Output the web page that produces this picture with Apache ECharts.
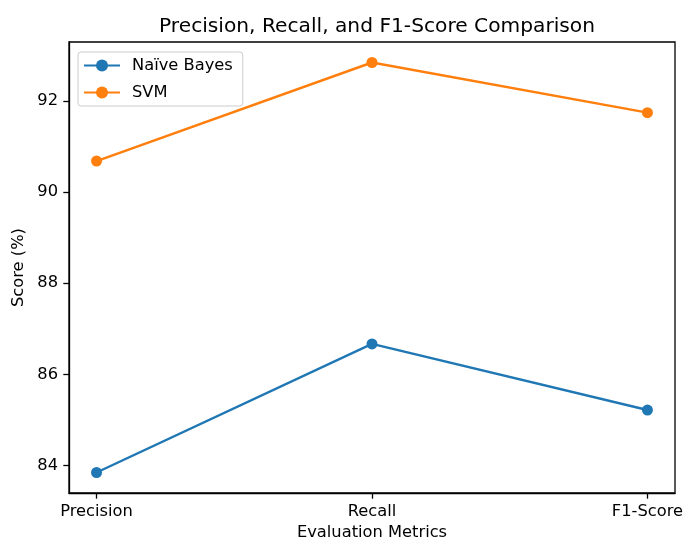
<!DOCTYPE html>
<html>
<head>
<meta charset="utf-8">
<script src="https://cdn.jsdelivr.net/npm/echarts@6/dist/echarts.min.js"></script>
<style>
html,body{margin:0;padding:0;background:#fff;}
#c{width:684px;height:542px;}
</style>
</head>
<body>
<div id="c"></div>
<script>
const categories = ['Precision', 'Recall', 'F1-Score'];
const naiveBayes = [83.85, 86.67, 85.22];
const svm = [90.68, 92.84, 91.74];
const yTicks = [84, 86, 88, 90, 92];
const seriesNames = ['Naïve Bayes', 'SVM'];
const colors = ['#1f77b4', '#ff7f0e'];

const all = naiveBayes.concat(svm);
const dMin = Math.min(...all), dMax = Math.max(...all);
const pad = (dMax - dMin) * 0.05;
const xIdx = categories.map((_, i) => i);

const font = 'DejaVu Sans';
const chart = echarts.init(document.getElementById('c'));
chart.setOption({
  animation: false,
  backgroundColor: '#fff',
  title: {
    text: 'Precision, Recall, and F1-Score Comparison',
    left: 372, textAlign: 'center', top: 12,
    textStyle: { fontFamily: font, fontSize: 20.2, fontWeight: 'normal', color: '#000' }
  },
  legend: {
    orient: 'vertical', left: 78, top: 52,
    padding: [4, 10, 4, 5],
    itemWidth: 36, itemHeight: 15, itemGap: 8,
    borderColor: '#cccccc', borderWidth: 1, borderRadius: 3,
    backgroundColor: 'rgba(255,255,255,0.8)',
    textStyle: { fontFamily: font, fontSize: 16.3, lineHeight: 19, color: '#000', padding: [0, 0, 0, 7] },
    data: seriesNames
  },
  grid: {
    left: 69, right: 9, top: 42, bottom: 49,
    outerBoundsMode: 'none', containLabel: false,
    show: true, borderColor: '#000', borderWidth: 1.3
  },
  xAxis: {
    type: 'value', min: -0.1, max: 2.1,
    name: 'Evaluation Metrics', nameLocation: 'middle', nameGap: 28,
    nameTextStyle: { fontFamily: font, fontSize: 16.3, color: '#000' },
    axisLine: { show: true, onZero: false, lineStyle: { color: '#000', width: 1.3 } },
    axisTick: { show: true, length: 5.7, lineStyle: { color: '#000', width: 1.3 }, customValues: xIdx },
    axisLabel: {
      customValues: xIdx, margin: 11,
      fontFamily: font, fontSize: 16.3, color: '#000',
      formatter: v => categories[Math.round(v)]
    },
    splitLine: { show: false }
  },
  yAxis: {
    type: 'value', min: dMin - pad, max: dMax + pad,
    name: 'Score (%)', nameLocation: 'middle', nameGap: 42,
    nameTextStyle: { fontFamily: font, fontSize: 16.3, color: '#000' },
    axisLine: { show: true, onZero: false, lineStyle: { color: '#000', width: 1.3 } },
    axisTick: { show: true, length: 5.7, lineStyle: { color: '#000', width: 1.3 }, customValues: yTicks },
    axisLabel: {
      customValues: yTicks, margin: 11,
      fontFamily: font, fontSize: 16.3, color: '#000',
      formatter: v => String(Math.round(v))
    },
    splitLine: { show: false }
  },
  series: [
    {
      name: seriesNames[0], type: 'line',
      data: naiveBayes.map((v, i) => [i, v]),
      symbol: 'circle', symbolSize: 11, showAllSymbol: true,
      itemStyle: { color: colors[0] },
      lineStyle: { color: colors[0], width: 2.4 }
    },
    {
      name: seriesNames[1], type: 'line',
      data: svm.map((v, i) => [i, v]),
      symbol: 'circle', symbolSize: 11, showAllSymbol: true,
      itemStyle: { color: colors[1] },
      lineStyle: { color: colors[1], width: 2.4 }
    }
  ]
});
</script>
</body>
</html>
